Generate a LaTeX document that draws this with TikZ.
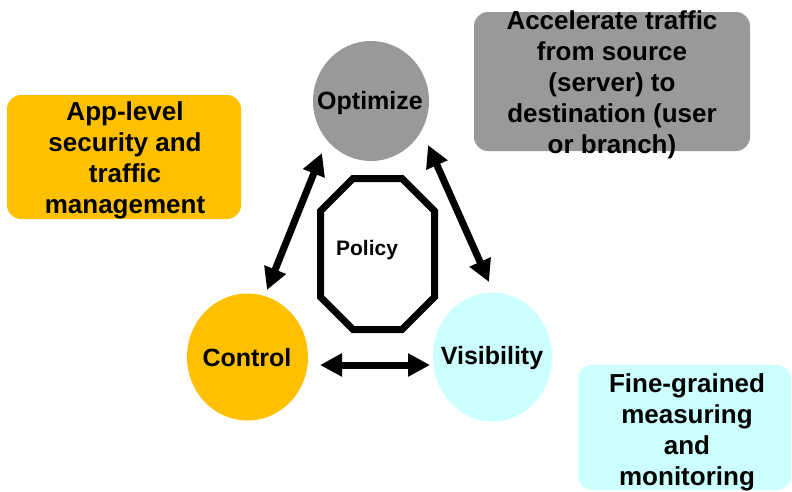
\documentclass[tikz,border=0pt]{standalone}
\usepackage{fontspec}
\setmainfont{Liberation Sans}
\usetikzlibrary{arrows.meta}
\definecolor{optgray}{HTML}{999999}
\definecolor{ctrlorange}{HTML}{FFC000}
\definecolor{viscyan}{HTML}{CCFFFF}
\begin{document}
\begin{tikzpicture}[x=1pt,y=-1pt,
  bigtext/.style={font=\fontsize{26}{31}\selectfont\bfseries, align=center, inner sep=0pt},
  circlabel/.style={font=\fontsize{25}{29}\selectfont\bfseries, inner sep=0pt},
  infobox/.style={rounded corners=14pt},
  dblarrow/.style={line width=7pt, {Triangle[length=22pt,width=22pt]}-{Triangle[length=22pt,width=22pt]}},
  ]
\useasboundingbox (0,0) rectangle (792,491);

% info boxes
\fill[optgray, infobox] (474,12) rectangle (750,151);
\node[bigtext] (acc) at (612,85) {Accelerate traffic\\from source\\(server) to\\destination (user\\or branch)};

\fill[ctrlorange, infobox] (7,95) rectangle (241,219);
\node[bigtext] (app) at (125,160) {App-level\\security and\\traffic\\management};

\fill[viscyan, infobox] (578,365) rectangle (791,490);
\node[bigtext] (fine) at (687,432) {Fine-grained\\measuring\\and\\monitoring};

% circles
\fill[optgray] (371,101) ellipse [x radius=58, y radius=60];
\fill[ctrlorange] (247.5,357) ellipse [x radius=60.5, y radius=63.5];
\fill[viscyan] (492.5,357) ellipse [x radius=59.5, y radius=64.5];
\node[circlabel] (opt) at (370,103) {Optimize};
\node[circlabel] (ctrl) at (247,358) {Control};
\node[circlabel] (vis) at (492,358) {Visibility};

% policy octagon
\draw[line width=7pt, line join=miter]
  (353,178.5) -- (402,178.5) -- (434.5,211) -- (434.5,297) -- (402,329.5)
  -- (353,329.5) -- (320.5,297) -- (320.5,211) -- cycle;
\node[font=\fontsize{21}{25}\selectfont\bfseries] (pol) at (367,250) {Policy};

% arrow end points
\coordinate (a1s) at (267,290);
\coordinate (a1e) at (322,153);
\coordinate (a2s) at (428,145);
\coordinate (a2e) at (489,282);
\coordinate (a3s) at (320,365);
\coordinate (a3e) at (430,365);

\draw[dblarrow] (a1s) -- (a1e);
\draw[dblarrow] (a2s) -- (a2e);
\draw[dblarrow] (a3s) -- (a3e);
\end{tikzpicture}
\end{document}
